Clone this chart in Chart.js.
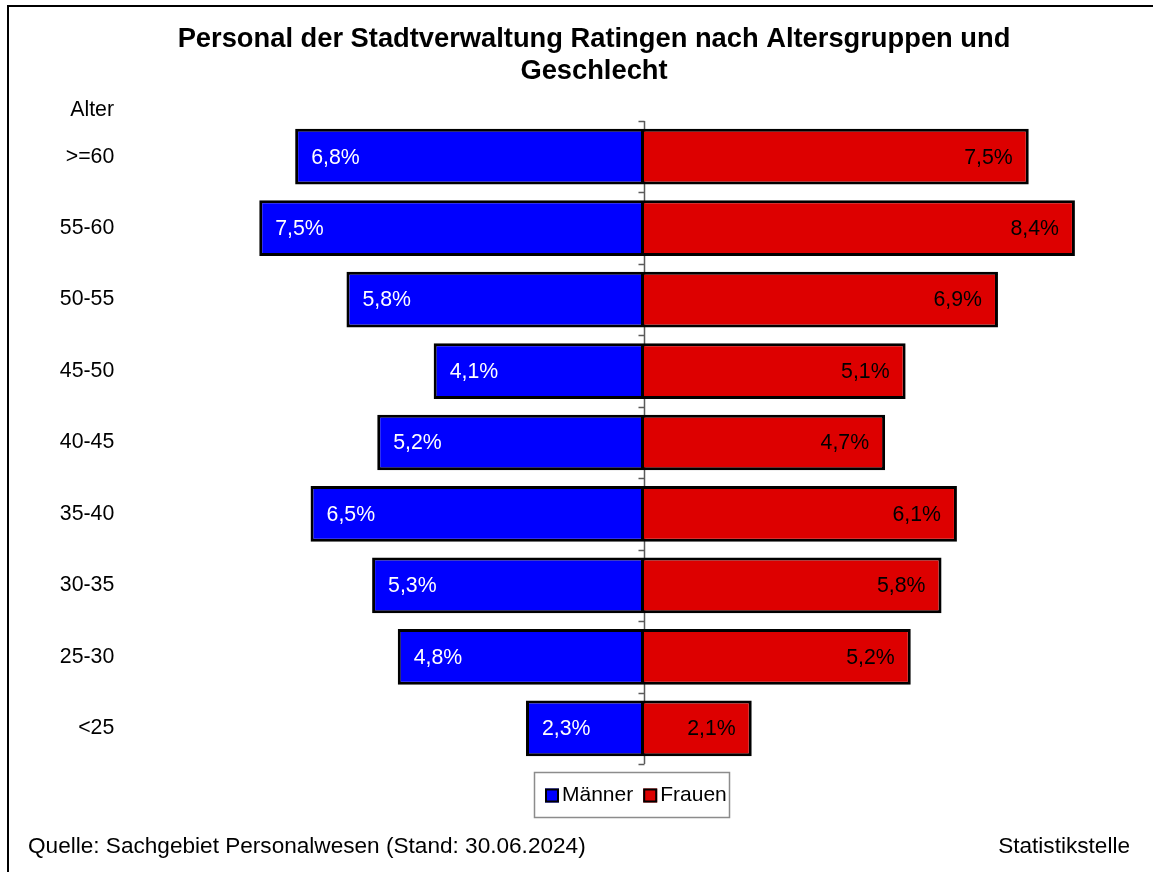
<!DOCTYPE html>
<html><head><meta charset="utf-8">
<script src="https://cdn.jsdelivr.net/npm/chart.js@4.4.1/dist/chart.umd.min.js"></script>
<style>html,body{margin:0;padding:0;background:#fff;overflow:hidden}#wrap{width:1153px;height:872px}</style>
</head><body><div id="wrap"><canvas id="c" width="1153" height="872"></canvas></div>
<script>
const categories = ['>=60','55-60','50-55','45-50','40-45','35-40','30-35','25-30','<25'];
const maenner = [6.8,7.5,5.8,4.1,5.2,6.5,5.3,4.8,2.3];
const frauen = [7.5,8.4,6.9,5.1,4.7,6.1,5.8,5.2,2.1];
const seriesNames = ['Männer','Frauen'];
const seriesColors = ['#0000FF','#DD0000'];
const labelColors = ['#FFFFFF','#000000'];
const titleLines = ['Personal der Stadtverwaltung Ratingen nach Altersgruppen und','Geschlecht'];
const axisTitle = 'Alter';
const sourceText = 'Quelle: Sachgebiet Personalwesen (Stand: 30.06.2024)';
const creditText = 'Statistikstelle';

const FONT = '"Liberation Sans", Arial, Helvetica, sans-serif';
const fmt = v => Math.abs(v).toFixed(1).replace('.', ',') + '%';

const deco = {
  id: 'deco',
  beforeDraw(chart) {
    const ctx = chart.ctx;
    ctx.save();
    ctx.fillStyle = '#fff';
    ctx.fillRect(0, 0, chart.width, chart.height);
    ctx.strokeStyle = '#000';
    ctx.lineWidth = 2;
    ctx.beginPath();
    ctx.moveTo(8, chart.height);
    ctx.lineTo(8, 6);
    ctx.lineTo(chart.width, 6);
    ctx.stroke();
    ctx.restore();
  },
  beforeDatasetsDraw(chart) {
    const ctx = chart.ctx, ca = chart.chartArea;
    const x0 = Math.round(chart.scales.x.getPixelForValue(0)) + 0.5;
    const ys = chart.scales.y;
    ctx.save();
    ctx.strokeStyle = '#5a5a5a';
    ctx.lineWidth = 1.5;
    ctx.beginPath();
    ctx.moveTo(x0, ca.top);
    ctx.lineTo(x0, ca.bottom);
    const n = categories.length;
    const bounds = [ca.top];
    for (let i = 0; i < n - 1; i++) bounds.push((ys.getPixelForValue(i) + ys.getPixelForValue(i + 1)) / 2);
    bounds.push(ca.bottom);
    bounds.forEach(b => { const yy = Math.round(b) + 0.5; ctx.moveTo(x0 - 6, yy); ctx.lineTo(x0, yy); });
    ctx.stroke();
    ctx.restore();
  },
  afterDatasetsDraw(chart) {
    const ctx = chart.ctx;
    ctx.save();
    ctx.font = '21.3px ' + FONT;
    ctx.textBaseline = 'middle';
    chart.data.datasets.forEach((ds, di) => {
      const meta = chart.getDatasetMeta(di);
      meta.data.forEach((bar, i) => {
        const v = ds.data[i];
        ctx.fillStyle = labelColors[di];
        if (v < 0) {
          ctx.textAlign = 'left';
          ctx.fillText(fmt(v), bar.x + 16, bar.y + 1);
        } else {
          ctx.textAlign = 'right';
          ctx.fillText(fmt(v), bar.x - 16, bar.y + 1);
        }
      });
    });
    ctx.restore();
  },
  afterDraw(chart) {
    const ctx = chart.ctx;
    ctx.save();
    // title
    ctx.fillStyle = '#000';
    ctx.font = 'bold 27.3px ' + FONT;
    ctx.textAlign = 'center';
    ctx.textBaseline = 'alphabetic';
    ctx.fillText(titleLines[0], 594, 47);
    ctx.fillText(titleLines[1], 594, 79);
    // axis title
    ctx.font = '21.3px ' + FONT;
    ctx.textAlign = 'right';
    ctx.textBaseline = 'middle';
    ctx.fillText(axisTitle, 114, 110);
    // legend
    const bx = 534, by = 772, bw = 195, bh = 45;
    ctx.font = '21px ' + FONT;
    ctx.strokeStyle = '#8c8c8c';
    ctx.lineWidth = 1.5;
    ctx.strokeRect(bx + 0.5, by + 0.5, bw, bh);
    let x = bx + 11;
    const cy = by + bh / 2 + 1;
    chart.data.datasets.forEach((ds, di) => {
      ctx.fillStyle = ds.backgroundColor;
      ctx.fillRect(x, cy - 7, 14, 14);
      ctx.strokeStyle = '#000';
      ctx.lineWidth = 2;
      ctx.strokeRect(x + 1, cy - 6, 12, 12);
      x += 17;
      ctx.fillStyle = '#000';
      ctx.textAlign = 'left';
      ctx.fillText(ds.label, x, cy);
      x += ctx.measureText(ds.label).width + 10;
    });
    // footer
    ctx.font = '22.6px ' + FONT;
    ctx.textAlign = 'left';
    ctx.fillText(sourceText, 28, 847);
    ctx.textAlign = 'right';
    ctx.fillText(creditText, 1130, 847);
    ctx.restore();
  }
};

Chart.defaults.font.family = FONT;
new Chart(document.getElementById('c'), {
  type: 'bar',
  data: {
    labels: categories,
    datasets: [
      { label: seriesNames[0], data: maenner.map(v => -v), backgroundColor: seriesColors[0],
        borderColor: '#000', borderWidth: 3, borderSkipped: false,
        categoryPercentage: 1, barPercentage: 0.78 },
      { label: seriesNames[1], data: frauen, backgroundColor: seriesColors[1],
        borderColor: '#000', borderWidth: 3, borderSkipped: 'start',
        categoryPercentage: 1, barPercentage: 0.78 }
    ]
  },
  options: {
    indexAxis: 'y',
    responsive: false,
    animation: false,
    devicePixelRatio: 1,
    layout: { padding: { top: 121, bottom: 108, left: 20, right: 47.3 } },
    plugins: { legend: { display: false }, title: { display: false }, tooltip: { enabled: false } },
    scales: {
      x: { stacked: true, min: -9, max: 9, display: false },
      y: {
        stacked: true,
        grid: { display: false, drawTicks: false },
        border: { display: false },
        ticks: { color: '#000', font: { size: 21.3, family: FONT }, padding: 68 },
        afterFit(s) { s.width = 162.3; }
      }
    }
  },
  plugins: [deco]
});
</script></body></html>
